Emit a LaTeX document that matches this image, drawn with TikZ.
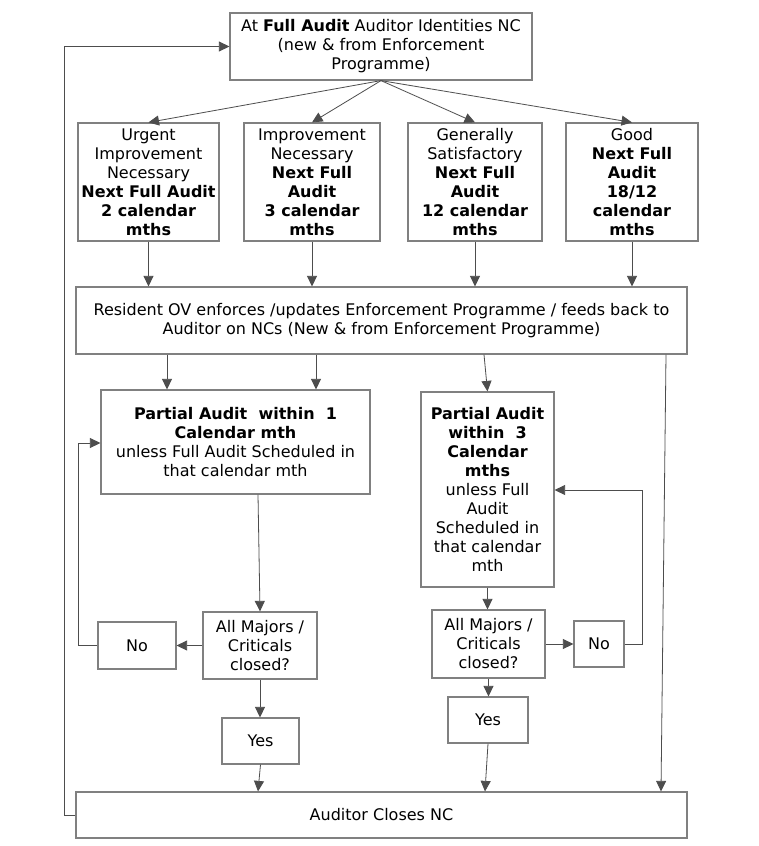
\documentclass[tikz,border=0pt]{standalone}
\usepackage{fontspec}
\setmainfont{DejaVu Sans}
\usetikzlibrary{arrows.meta,calc}
\definecolor{boxline}{HTML}{808080}
\definecolor{conline}{HTML}{4D4D4D}
\tikzset{
  box/.style={draw=boxline, line width=1.2pt, fill=white, inner sep=0pt, align=center,
    font=\fontsize{16}{19}\selectfont},
  arr/.style={draw=conline, line width=0.8pt, -{Triangle[length=10.5pt,width=10pt]}},
  con/.style={draw=conline, line width=0.8pt}
}
\begin{document}
\begin{tikzpicture}[x=1pt,y=-1pt]
\useasboundingbox (0,0) rectangle (759,846);
\fill[white] (0,0) rectangle (759,846);
% nodes
\node[box, minimum width=302pt, minimum height=67pt] (top) at (381,46.5)
  {At \textbf{Full Audit} Auditor Identities NC\\(new \& from Enforcement\\Programme)};
\node[box, minimum width=141pt, minimum height=118pt] (b1) at (148.5,182)
  {Urgent\\Improvement\\Necessary\\\textbf{Next Full Audit}\\\textbf{2 calendar}\\\textbf{mths}};
\node[box, minimum width=136pt, minimum height=118pt] (b2) at (312,182)
  {Improvement\\Necessary\\\textbf{Next Full}\\\textbf{Audit}\\\textbf{3 calendar}\\\textbf{mths}};
\node[box, minimum width=134pt, minimum height=118pt] (b3) at (475,182)
  {Generally\\Satisfactory\\\textbf{Next Full}\\\textbf{Audit}\\\textbf{12 calendar}\\\textbf{mths}};
\node[box, minimum width=132pt, minimum height=118pt] (b4) at (632,182)
  {Good\\\textbf{Next Full}\\\textbf{Audit}\\\textbf{18/12}\\\textbf{calendar}\\\textbf{mths}};
\node[box, minimum width=611pt, minimum height=67pt] (res) at (381.5,320.5)
  {Resident OV enforces /updates Enforcement Programme / feeds back to\\Auditor on NCs (New \& from Enforcement Programme)};
\node[box, minimum width=269pt, minimum height=104pt] (p1) at (235.5,442)
  {\textbf{Partial Audit\ \ within\ \ 1}\\\textbf{Calendar mth}\\unless Full Audit Scheduled in\\that calendar mth};
\node[box, minimum width=133pt, minimum height=195pt] (p2) at (487.5,489.5)
  {\textbf{Partial Audit}\\\textbf{within\ \ 3}\\\textbf{Calendar}\\\textbf{mths}\\unless Full\\Audit\\Scheduled in\\that calendar\\mth};
\node[box, minimum width=114pt, minimum height=67pt] (m1) at (260,645.5)
  {All Majors /\\Criticals\\closed?};
\node[box, minimum width=78pt, minimum height=47pt] (no1) at (137,645.5) {No};
\node[box, minimum width=77pt, minimum height=46pt] (y1) at (260.5,741) {Yes};
\node[box, minimum width=113pt, minimum height=68pt] (m2) at (488.5,644)
  {All Majors /\\Criticals\\closed?};
\node[box, minimum width=50pt, minimum height=46pt] (no2) at (599,644) {No};
\node[box, minimum width=80pt, minimum height=46pt] (y2) at (488,720) {Yes};
\node[box, minimum width=611pt, minimum height=46pt] (fin) at (381.5,815) {Auditor Closes NC};
% connectors
\draw[arr] (top.south) -- (b1.north);
\draw[arr] (top.south) -- (b2.north);
\draw[arr] (top.south) -- (b3.north);
\draw[arr] (top.south) -- (b4.north);
\draw[arr] (b1.south) -- (b1.south |- res.north);
\draw[arr] (b2.south) -- (b2.south |- res.north);
\draw[arr] (b3.south) -- (b3.south |- res.north);
\draw[arr] (b4.south) -- (b4.south |- res.north);
\draw[arr] (res.south -| 167,0) -- (p1.north -| 167,0);
\draw[arr] (res.south -| 316,0) -- (p1.north -| 316,0);
\draw[arr] (res.south -| 484,0) -- (p2.north);
\draw[arr] (res.south -| 666,0) -- (fin.north -| 661,0);
\draw[arr] (p1.south -| 258,0) -- (m1.north);
\draw[arr] (m1.west) -- (no1.east);
\draw[arr] (no1.west) -- ++(-19,0) |- (p1.west |- 0,443);
\draw[arr] (m1.south) -- (y1.north -| m1.south);
\draw[arr] (y1.south) -- (fin.north -| 258,0);
\draw[arr] (p2.south) -- (m2.north -| p2.south);
\draw[arr] (m2.east) -- (no2.west);
\draw[arr] (no2.east) -- ++(18,0) |- (p2.east |- 0,490);
\draw[arr] (m2.south) -- (y2.north -| m2.south);
\draw[arr] (y2.south) -- (fin.north -| 485,0);
\draw[arr] (fin.west) -- ++(-11,0) |- (top.west);
\end{tikzpicture}
\end{document}
